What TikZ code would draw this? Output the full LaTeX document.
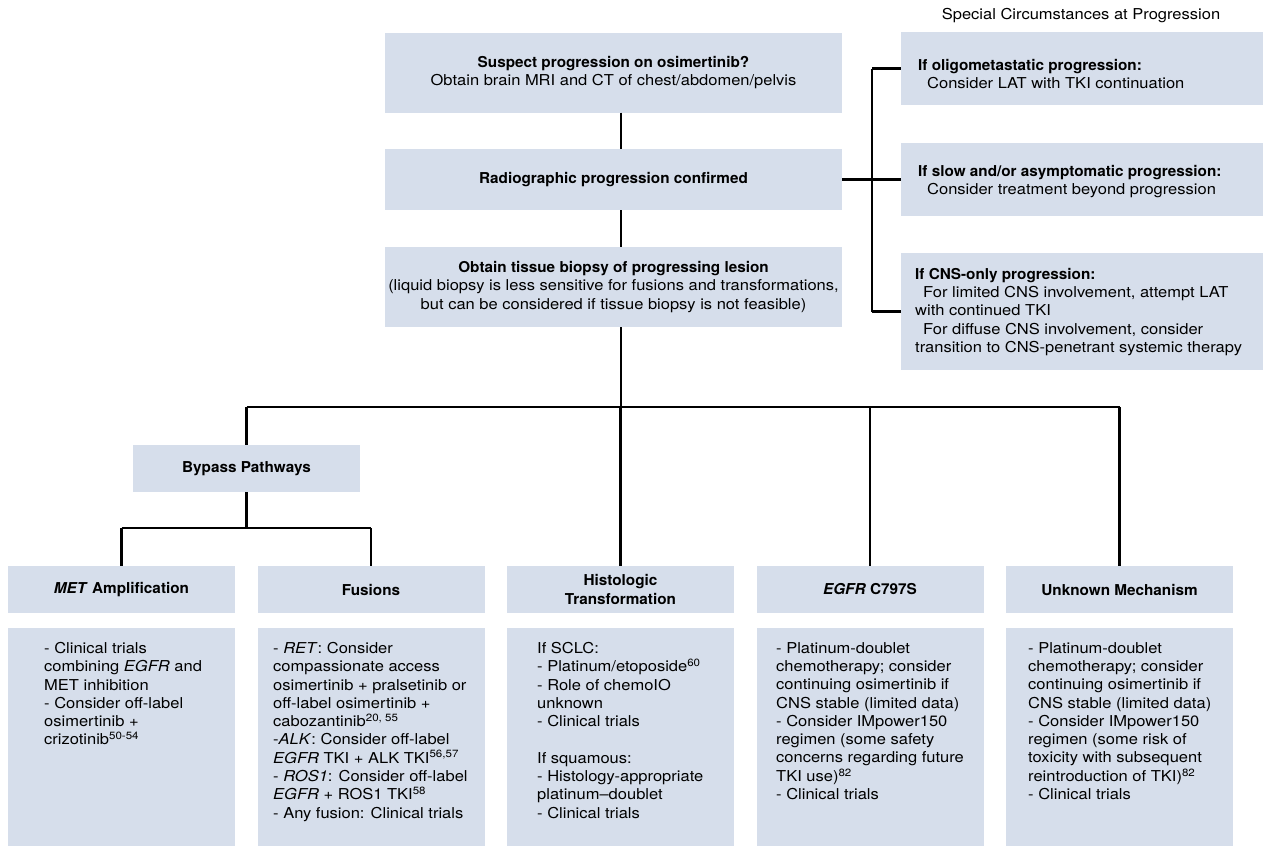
\documentclass[tikz,border=0pt]{standalone}
\usepackage{fontspec}
\setmainfont[FakeStretch=1.1,BoldFeatures={FakeStretch=1.02},BoldItalicFeatures={FakeStretch=1.02}]{TeX Gyre Heros}
\definecolor{boxblue}{RGB}{214,222,235}

\begin{document}
\fontsize{15}{18.3}\selectfont
\begin{tikzpicture}[x=1pt,y=-1pt,
	stage/.style={fill=boxblue,inner sep=0pt,minimum width=457pt,align=center},
	side/.style={fill=boxblue,inner sep=0pt,minimum width=362pt},
	head/.style={fill=boxblue,inner sep=0pt,minimum width=227pt,minimum height=47pt,align=center,font=\bfseries},
	body/.style={fill=boxblue,inner sep=0pt,minimum width=227pt,minimum height=218pt},
	txt/.style={anchor=north west,inner sep=0pt,align=left},
	link/.style={line width=2.3pt}]
	\useasboundingbox (0,0) rectangle (1269,854);

	\node[stage,minimum height=80pt] (sus) at (613.5,72.5) {\textbf{Suspect progression on osimertinib?}\\Obtain brain MRI and CT of chest/abdomen/pelvis};
	\node[stage,minimum height=61pt,font=\bfseries] (rad) at (613.5,179.5) {Radiographic progression confirmed};
	\node[stage,minimum height=80pt] (bio) at (613.5,287) {\textbf{Obtain tissue biopsy of progressing lesion}\\(liquid biopsy is less sensitive for fusions and transformations,\\but can be considered if tissue biopsy is not feasible)};

	\node (spec) at (1081,16) {Special Circumstances at Progression};
	\node[side,minimum height=73pt] (oli) at (1082,68.5) {};
	\node[side,minimum height=73pt] (slow) at (1082,179.5) {};
	\node[side,minimum height=117pt] (cns) at (1082,311.5) {};
	\node[txt] (olit) at (918,59) {\textbf{If oligometastatic progression:}\\\hspace*{9pt}Consider LAT with TKI continuation};
	\node[txt] (slowt) at (918,165) {\textbf{If slow and/or asymptomatic progression:}\\\hspace*{9pt}Consider treatment beyond progression};
	\node[txt] (cnst) at (915,268) {\textbf{If CNS-only progression:}\\\hspace*{8pt}For limited CNS involvement, attempt LAT\\with continued TKI\\\hspace*{8pt}For diffuse CNS involvement, consider\\transition to CNS-penetrant systemic therapy};

	\node[head] (byp) at (246.5,468.5) {Bypass Pathways};
	\node[head] (met) at (121.5,589.5) {\textit{MET} Amplification};
	\node[head] (fus) at (371,589.5) {Fusions};
	\node[head] (his) at (620.5,589.5) {Histologic\\Transformation};
	\node[head] (egf) at (870,589.5) {\textit{EGFR} C797S};
	\node[head] (unk) at (1119.5,589.5) {Unknown Mechanism};
	\foreach \n/\x in {met/121.5, fus/371, his/620.5, egf/870, unk/1119.5}
		{\node[body] (\n b) at (\x,737) {};}

	\node[txt] (mett) at (44,642) {- Clinical trials\\combining \textit{EGFR} and\\MET inhibition\\- Consider off-label\\osimertinib +\\crizotinib\textsuperscript{50-54}};
	\node[txt] (fust) at (273,642) {- \textit{RET}: Consider\\compassionate access\\osimertinib + pralsetinib or\\off-label osimertinib +\\cabozantinib\textsuperscript{20, 55}\\-\textit{ALK}: Consider off-label\\\textit{EGFR} TKI + ALK TKI\textsuperscript{56,57}\\- \textit{ROS1}: Consider off-label\\\textit{EGFR} + ROS1 TKI\textsuperscript{58}\\- Any fusion: Clinical trials};
	\node[txt] (hist) at (537,642) {If SCLC:\\- Platinum/etoposide\textsuperscript{60}\\- Role of chemoIO\\unknown\\- Clinical trials\\[18.3pt]If squamous:\\- Histology-appropriate\\platinum--doublet\\- Clinical trials};
	\node[txt] (egft) at (776,642) {- Platinum-doublet\\chemotherapy; consider\\continuing osimertinib if\\CNS stable (limited data)\\- Consider IMpower150\\regimen (some safety\\concerns regarding future\\TKI use)\textsuperscript{82}\\- Clinical trials};
	\node[txt] (unkt) at (1028,642) {- Platinum-doublet\\chemotherapy; consider\\continuing osimertinib if\\CNS stable (limited data)\\- Consider IMpower150\\regimen (some risk of\\toxicity with subsequent\\reintroduction of TKI)\textsuperscript{82}\\- Clinical trials};

	\coordinate (bus) at (621,407);
	\coordinate (fork) at (246.5,528);
	\coordinate (rail) at (872,180);
	\draw[link] (sus.south -| bus) -- (rad.north -| bus);
	\draw[link] (rad.south -| bus) -- (bio.north -| bus);
	\draw[link] (bio.south -| bus) -- (bus);
	\draw[link] (rad) -- (slow);
	\draw[link] (oli.west -| rail) -- (cns.west -| rail);
	\draw[link] (oli.west -| rail) -- (oli);
	\draw[link] (cns.west -| rail) -- (cns);
	\draw[link] (byp.north |- bus) -- (unk.north |- bus);
	\foreach \n in {byp,his,egf,unk}
		{\draw[link] (\n.north |- bus) -- (\n.north);}
	\draw[link] (byp.south) -- (fork);
	\draw[link] (met.north |- fork) -- (fus.north |- fork);
	\foreach \n in {met,fus}
		{\draw[link] (\n.north |- fork) -- (\n.north);}
\end{tikzpicture}
\end{document}
